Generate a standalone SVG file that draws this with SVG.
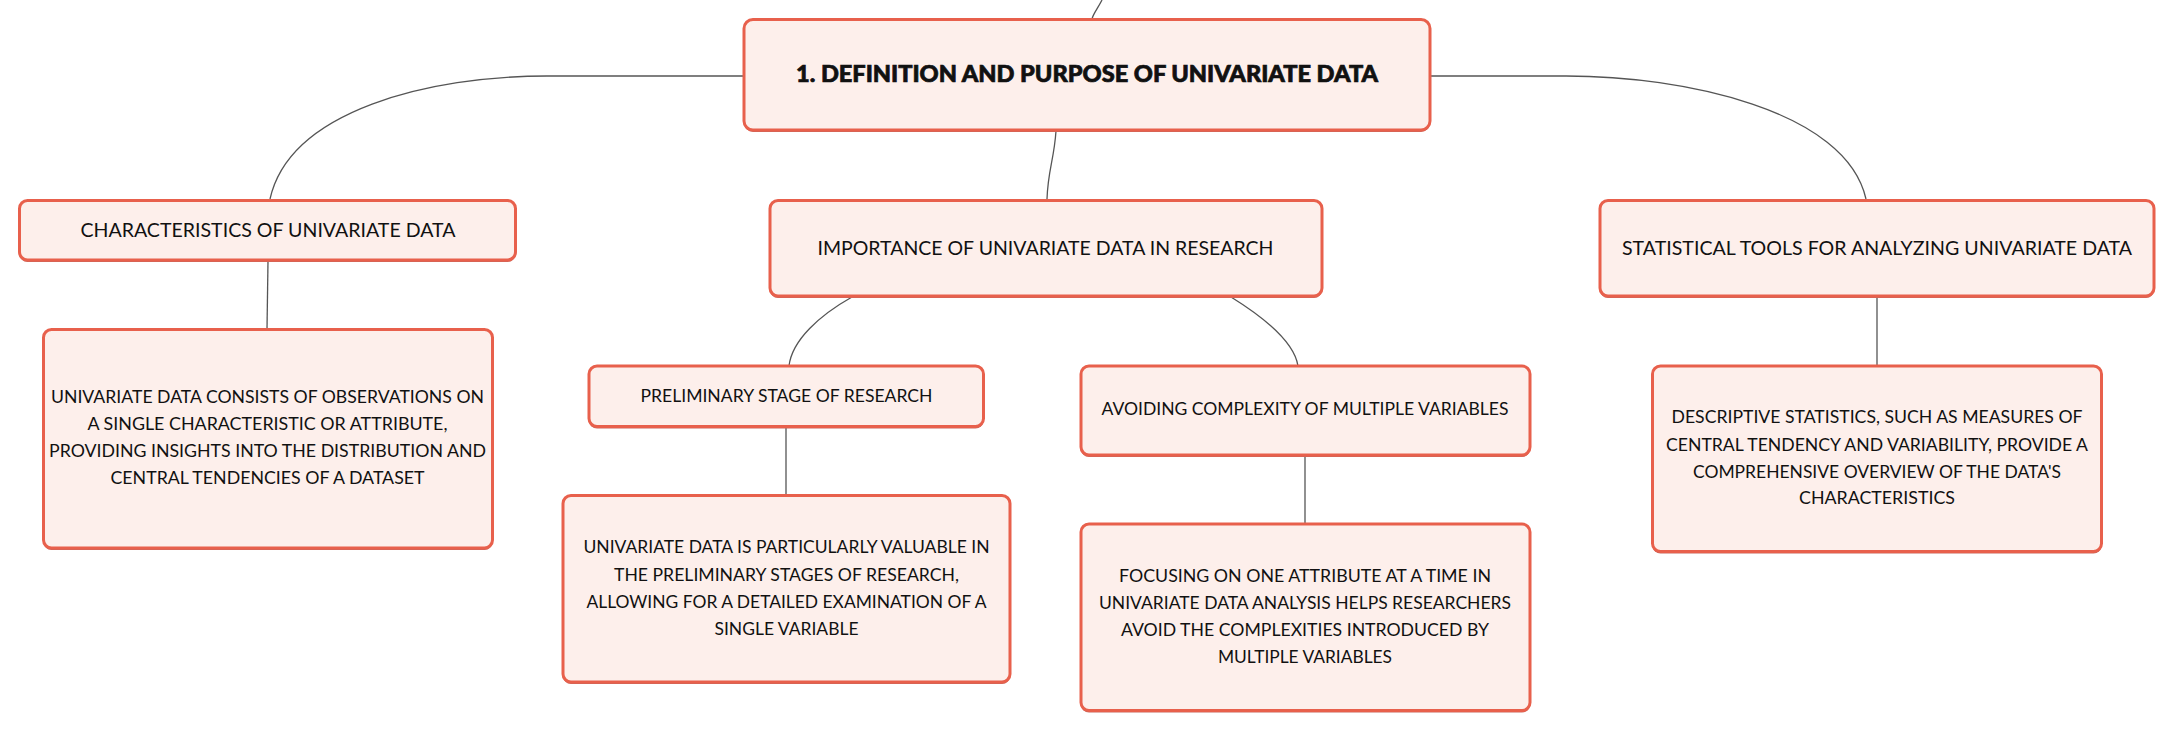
<svg xmlns="http://www.w3.org/2000/svg" width="2175" height="732" viewBox="0 0 2175 732">
<defs>
<style>
.box{fill:#fdefeb;stroke:#e8604c;stroke-width:3}
.sh{fill:#c9675c}
.t{font-family:Lato,"Noto Sans","Liberation Sans",sans-serif;fill:#111;text-anchor:middle}
.h{font-size:23px;font-weight:900;stroke:#111;stroke-width:0.7}
.n{font-size:19px}
.s{font-size:17px}
.d{font-size:16.5px}
.c{fill:none;stroke:#555;stroke-width:1.3}
</style>
</defs>
<rect width="2175" height="732" fill="#ffffff"/>
<g id="connectors">
<path class="c" d="M1102,0 C1098,8 1093,14 1092,19"/>
<path class="c" d="M744,76 L547,76 C430,76 290,110 270,199"/>
<path class="c" d="M1430,76 L1566,76 C1683,76 1846,110 1866,199"/>
<path class="c" d="M1056,131 C1054,160 1048,170 1047,199"/>
<path class="c" d="M268,261 L267,329"/>
<path class="c" d="M852,297 C820,315 792,340 789,366"/>
<path class="c" d="M1231,297 C1260,315 1294,340 1298,366"/>
<path class="c" d="M1877,297 L1877,366"/>
<path class="c" d="M786,427 L786,495"/>
<path class="c" d="M1305,456 L1305,524"/>
</g>
<g id="main">
<rect class="sh" x="744" y="21" width="686" height="111" rx="9"/>
<rect class="box" x="744" y="19.5" width="686" height="110.5" rx="9"/>
<text class="t h" x="1087" y="82" textLength="582" lengthAdjust="spacingAndGlyphs">1. DEFINITION AND PURPOSE OF UNIVARIATE DATA</text>
</g>
<g id="characteristics">
<rect class="sh" x="19.5" y="202" width="496" height="60" rx="8"/>
<rect class="box" x="19.5" y="200.5" width="496" height="59.5" rx="8"/>
<text class="t n" x="268" y="237" textLength="375" lengthAdjust="spacingAndGlyphs">CHARACTERISTICS OF UNIVARIATE DATA</text>
</g>
<g id="importance">
<rect class="sh" x="770" y="202" width="552" height="96" rx="8"/>
<rect class="box" x="770" y="200.5" width="552" height="95.5" rx="8"/>
<text class="t n" x="1045.5" y="255" textLength="456" lengthAdjust="spacingAndGlyphs">IMPORTANCE OF UNIVARIATE DATA IN RESEARCH</text>
</g>
<g id="stattools">
<rect class="sh" x="1600" y="202" width="554" height="96" rx="8"/>
<rect class="box" x="1600" y="200.5" width="554" height="95.5" rx="8"/>
<text class="t n" x="1877" y="255" textLength="510" lengthAdjust="spacingAndGlyphs">STATISTICAL TOOLS FOR ANALYZING UNIVARIATE DATA</text>
</g>
<g id="char-detail">
<rect class="sh" x="43.5" y="331" width="449" height="219" rx="8"/>
<rect class="box" x="43.5" y="329.5" width="449" height="218.5" rx="8"/>
<text class="t d" x="267.5" y="403" textLength="433" lengthAdjust="spacingAndGlyphs">UNIVARIATE DATA CONSISTS OF OBSERVATIONS ON</text>
<text class="t d" x="267.5" y="430" textLength="360" lengthAdjust="spacingAndGlyphs">A SINGLE CHARACTERISTIC OR ATTRIBUTE,</text>
<text class="t d" x="267.5" y="457" textLength="437" lengthAdjust="spacingAndGlyphs">PROVIDING INSIGHTS INTO THE DISTRIBUTION AND</text>
<text class="t d" x="267.5" y="484" textLength="314" lengthAdjust="spacingAndGlyphs">CENTRAL TENDENCIES OF A DATASET</text>
</g>
<g id="prelim">
<rect class="sh" x="589" y="367.5" width="394.5" height="61" rx="8"/>
<rect class="box" x="589" y="366" width="394.5" height="60.5" rx="8"/>
<text class="t s" x="786.5" y="401.5" textLength="292" lengthAdjust="spacingAndGlyphs">PRELIMINARY STAGE OF RESEARCH</text>
</g>
<g id="prelim-detail">
<rect class="sh" x="563" y="497" width="447" height="187" rx="8"/>
<rect class="box" x="563" y="495.5" width="447" height="186.5" rx="8"/>
<text class="t d" x="786.5" y="553" textLength="406" lengthAdjust="spacingAndGlyphs">UNIVARIATE DATA IS PARTICULARLY VALUABLE IN</text>
<text class="t d" x="786.5" y="580.5" textLength="345" lengthAdjust="spacingAndGlyphs">THE PRELIMINARY STAGES OF RESEARCH,</text>
<text class="t d" x="786.5" y="607.5" textLength="400" lengthAdjust="spacingAndGlyphs">ALLOWING FOR A DETAILED EXAMINATION OF A</text>
<text class="t d" x="786.5" y="635" textLength="144" lengthAdjust="spacingAndGlyphs">SINGLE VARIABLE</text>
</g>
<g id="avoiding">
<rect class="sh" x="1081" y="367.5" width="449" height="89.5" rx="8"/>
<rect class="box" x="1081" y="366" width="449" height="89" rx="8"/>
<text class="t s" x="1305" y="415" textLength="407" lengthAdjust="spacingAndGlyphs">AVOIDING COMPLEXITY OF MULTIPLE VARIABLES</text>
</g>
<g id="avoiding-detail">
<rect class="sh" x="1081" y="525.5" width="449" height="187" rx="8"/>
<rect class="box" x="1081" y="524" width="449" height="186.5" rx="8"/>
<text class="t d" x="1305" y="581.5" textLength="372" lengthAdjust="spacingAndGlyphs">FOCUSING ON ONE ATTRIBUTE AT A TIME IN</text>
<text class="t d" x="1305" y="609" textLength="412" lengthAdjust="spacingAndGlyphs">UNIVARIATE DATA ANALYSIS HELPS RESEARCHERS</text>
<text class="t d" x="1305" y="636" textLength="368" lengthAdjust="spacingAndGlyphs">AVOID THE COMPLEXITIES INTRODUCED BY</text>
<text class="t d" x="1305" y="663" textLength="174" lengthAdjust="spacingAndGlyphs">MULTIPLE VARIABLES</text>
</g>
<g id="stat-detail">
<rect class="sh" x="1652.5" y="367.5" width="449" height="186" rx="8"/>
<rect class="box" x="1652.5" y="366" width="449" height="185.5" rx="8"/>
<text class="t d" x="1877" y="423" textLength="411" lengthAdjust="spacingAndGlyphs">DESCRIPTIVE STATISTICS, SUCH AS MEASURES OF</text>
<text class="t d" x="1877" y="450.5" textLength="422" lengthAdjust="spacingAndGlyphs">CENTRAL TENDENCY AND VARIABILITY, PROVIDE A</text>
<text class="t d" x="1877" y="477.5" textLength="368" lengthAdjust="spacingAndGlyphs">COMPREHENSIVE OVERVIEW OF THE DATA'S</text>
<text class="t d" x="1877" y="504" textLength="156" lengthAdjust="spacingAndGlyphs">CHARACTERISTICS</text>
</g>
</svg>
